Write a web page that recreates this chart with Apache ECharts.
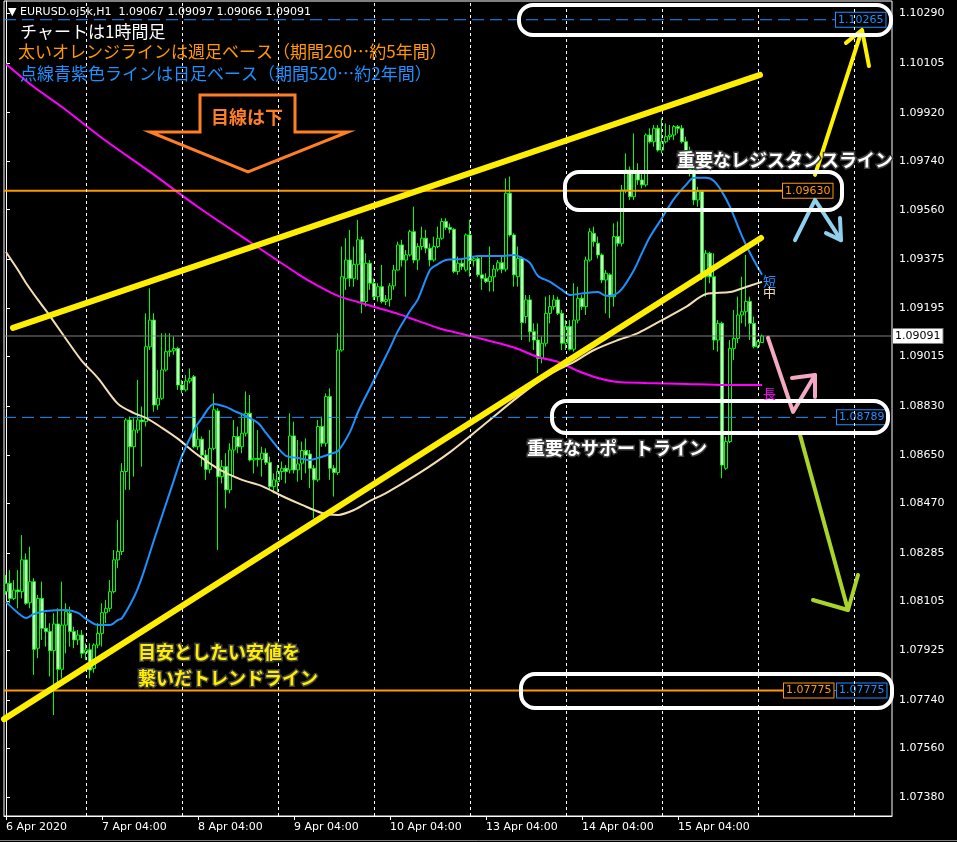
<!DOCTYPE html>
<html><head><meta charset="utf-8">
<script src="https://cdn.jsdelivr.net/npm/echarts@6/dist/echarts.min.js"></script>
<style>html,body{margin:0;padding:0;background:#000;}#c{width:957px;height:842px;}</style>
</head><body><div id="c"></div>
<script>
// ---------- DATA ----------
const openP = [1.08142,1.08173,1.08117,1.08148,1.08142,1.08260,1.08101,1.08179,1.07932,1.08117,
1.08006,1.07994,1.07923,1.08022,1.07854,1.08018,1.08062,1.07994,1.07963,1.07981,
1.07916,1.07926,1.07857,1.07944,1.07987,1.08064,1.08080,1.08142,1.08260,1.08291,
1.08588,1.08779,1.08680,1.08742,1.08779,1.08773,1.09051,1.09150,1.08835,1.08860,
1.08965,1.09033,1.09036,1.09045,1.08909,1.08891,1.08924,1.08940,1.08680,1.08708,
1.08649,1.08596,1.08674,1.08813,1.08569,1.08606,1.08520,1.08668,1.08718,1.08680,
1.08730,1.08804,1.08631,1.08637,1.08633,1.08656,1.08621,1.08532,1.08550,1.08588,
1.08600,1.08594,1.08720,1.08594,1.08619,1.08666,1.08653,1.08600,1.08557,1.08755,
1.08693,1.08866,1.08600,1.08584,1.09039,1.09305,1.09373,1.09305,1.09357,1.09448,
1.09219,1.09361,1.09287,1.09237,1.09274,1.09219,1.09227,1.09277,1.09336,1.09429,
1.09373,1.09392,1.09478,1.09373,1.09423,1.09454,1.09417,1.09373,1.09423,1.09454,
1.09516,1.09494,1.09487,1.09330,1.09361,1.09336,1.09466,1.09371,1.09378,1.09318,
1.09305,1.09293,1.09311,1.09339,1.09363,1.09339,1.09621,1.09466,1.09311,1.09379,
1.09163,1.09225,1.09107,1.09076,1.09008,1.09064,1.09175,1.09200,1.09225,1.09175,
1.09064,1.09126,1.09042,1.09150,1.09231,1.09200,1.09373,1.09472,1.09435,1.09392,
1.09299,1.09318,1.09237,1.09460,1.09435,1.09633,1.09707,1.09608,1.09701,1.09670,
1.09652,1.09837,1.09812,1.09862,1.09781,1.09812,1.09831,1.09837,1.09868,1.09862,
1.09812,1.09775,1.09707,1.09596,1.09627,1.09311,1.09398,1.09311,1.09076,1.09138,
1.08600,1.08699,1.09045,1.09082,1.09169,1.09181,1.09219,1.09138,1.09052,1.09067];
const closeP = [1.08173,1.08117,1.08148,1.08142,1.08260,1.08099,1.08179,1.07928,1.08117,1.08006,
1.07994,1.07923,1.08022,1.07854,1.08018,1.08068,1.07994,1.07963,1.07981,1.07913,
1.07926,1.07851,1.07944,1.07987,1.08064,1.08080,1.08142,1.08260,1.08291,1.08588,
1.08779,1.08680,1.08742,1.08779,1.08773,1.09051,1.09150,1.08835,1.08860,1.08965,
1.09033,1.09036,1.09045,1.08909,1.08891,1.08924,1.08934,1.08680,1.08708,1.08649,
1.08596,1.08674,1.08817,1.08569,1.08606,1.08520,1.08668,1.08718,1.08680,1.08730,
1.08804,1.08631,1.08637,1.08633,1.08656,1.08621,1.08532,1.08557,1.08588,1.08600,
1.08588,1.08720,1.08594,1.08616,1.08666,1.08649,1.08600,1.08557,1.08755,1.08693,
1.08866,1.08600,1.08584,1.09039,1.09311,1.09373,1.09305,1.09357,1.09448,1.09219,
1.09361,1.09287,1.09237,1.09274,1.09219,1.09227,1.09277,1.09336,1.09429,1.09373,
1.09392,1.09478,1.09373,1.09423,1.09454,1.09417,1.09373,1.09423,1.09454,1.09516,
1.09494,1.09487,1.09330,1.09361,1.09349,1.09466,1.09371,1.09378,1.09318,1.09305,
1.09293,1.09311,1.09339,1.09363,1.09339,1.09621,1.09466,1.09318,1.09379,1.09141,
1.09225,1.09107,1.09076,1.09008,1.09064,1.09175,1.09200,1.09225,1.09175,1.09064,
1.09126,1.09042,1.09150,1.09231,1.09200,1.09373,1.09478,1.09441,1.09392,1.09299,
1.09324,1.09237,1.09460,1.09435,1.09633,1.09707,1.09608,1.09701,1.09670,1.09652,
1.09837,1.09812,1.09862,1.09781,1.09812,1.09831,1.09837,1.09868,1.09862,1.09812,
1.09775,1.09707,1.09596,1.09627,1.09311,1.09398,1.09311,1.09076,1.09138,1.08612,
1.08699,1.09045,1.09082,1.09169,1.09181,1.09219,1.09138,1.09052,1.09070,1.09091];
const lowP = [1.08130,1.08099,1.08111,1.08080,1.08117,1.08093,1.08080,1.07833,1.07895,1.07963,
1.07938,1.07827,1.07684,1.07790,1.07820,1.07913,1.07938,1.07932,1.07944,1.07895,
1.07888,1.07820,1.07841,1.07932,1.07938,1.08025,1.08068,1.08136,1.08229,1.08278,
1.08520,1.08520,1.08569,1.08730,1.08606,1.08755,1.09039,1.08810,1.08817,1.08854,
1.08959,1.09014,1.09021,1.08891,1.08878,1.08885,1.08915,1.08674,1.08668,1.08606,
1.08557,1.08581,1.08668,1.08297,1.08544,1.08451,1.08507,1.08569,1.08656,1.08656,
1.08718,1.08625,1.08581,1.08606,1.08569,1.08612,1.08520,1.08507,1.08513,1.08557,
1.08544,1.08581,1.08581,1.08550,1.08557,1.08581,1.08526,1.08414,1.08550,1.08680,
1.08680,1.08557,1.08495,1.08575,1.09033,1.09262,1.09274,1.09274,1.09299,1.09175,
1.09200,1.09262,1.09225,1.09219,1.09212,1.09206,1.09200,1.09262,1.09334,1.09349,
1.09237,1.09386,1.09361,1.09336,1.09410,1.09398,1.09349,1.09367,1.09417,1.09448,
1.09485,1.09472,1.09324,1.09318,1.09336,1.09330,1.09311,1.09349,1.09311,1.09262,
1.09287,1.09256,1.09256,1.09330,1.09324,1.09330,1.09460,1.09274,1.09274,1.09076,
1.09138,1.09070,1.09039,1.08953,1.08990,1.09052,1.09138,1.09188,1.09169,1.09039,
1.09039,1.09037,1.09033,1.09138,1.09188,1.09169,1.09367,1.09423,1.09379,1.09287,
1.09175,1.09157,1.09200,1.09423,1.09423,1.09621,1.09596,1.09596,1.09652,1.09639,
1.09645,1.09806,1.09794,1.09775,1.09769,1.09806,1.09819,1.09819,1.09843,1.09806,
1.09763,1.09683,1.09577,1.09571,1.09299,1.09237,1.09287,1.09039,1.09033,1.08563,
1.08594,1.08693,1.09002,1.09064,1.09138,1.09126,1.09076,1.09045,1.09045,1.09066];
const highP = [1.08204,1.08222,1.08185,1.08222,1.08352,1.08284,1.08309,1.08192,1.08130,1.08179,
1.08062,1.08025,1.08062,1.08080,1.08179,1.08099,1.08086,1.08012,1.08000,1.08000,
1.07950,1.07950,1.07950,1.08025,1.08099,1.08111,1.08185,1.08297,1.08408,1.08619,
1.08786,1.08792,1.08786,1.08928,1.08829,1.09175,1.09268,1.09175,1.08965,1.09101,
1.09101,1.09101,1.09089,1.09051,1.08928,1.08946,1.08971,1.08946,1.08755,1.08718,
1.08668,1.08742,1.08878,1.08823,1.08631,1.08656,1.08693,1.08779,1.08755,1.08804,
1.08885,1.08872,1.08779,1.08742,1.08680,1.08674,1.08643,1.08581,1.08612,1.08625,
1.08612,1.08804,1.08773,1.08705,1.08699,1.08711,1.08668,1.08612,1.08779,1.08792,
1.08878,1.08897,1.08612,1.09101,1.09423,1.09454,1.09485,1.09423,1.09522,1.09460,
1.09398,1.09373,1.09305,1.09287,1.09355,1.09243,1.09287,1.09355,1.09441,1.09448,
1.09410,1.09485,1.09571,1.09435,1.09497,1.09485,1.09435,1.09460,1.09497,1.09528,
1.09528,1.09509,1.09491,1.09386,1.09373,1.09472,1.09522,1.09386,1.09386,1.09386,
1.09324,1.09423,1.09355,1.09373,1.09386,1.09676,1.09683,1.09472,1.09423,1.09386,
1.09243,1.09243,1.09138,1.09138,1.09089,1.09237,1.09243,1.09243,1.09237,1.09188,
1.09150,1.09150,1.09287,1.09274,1.09243,1.09386,1.09491,1.09497,1.09460,1.09398,
1.09336,1.09324,1.09509,1.09516,1.09652,1.09769,1.09720,1.09843,1.09732,1.09707,
1.09843,1.09862,1.09874,1.09874,1.09899,1.09880,1.09874,1.09874,1.09874,1.09874,
1.09831,1.09794,1.09720,1.09645,1.09633,1.09410,1.09404,1.09398,1.09150,1.09144,
1.08717,1.09076,1.09188,1.09237,1.09311,1.09392,1.09237,1.09163,1.09076,1.09097];

const xTickLabels = ["6 Apr 2020","7 Apr 04:00","8 Apr 04:00","9 Apr 04:00","10 Apr 04:00","13 Apr 04:00","14 Apr 04:00","15 Apr 04:00"];
const xTickBars = [0,24,48,72,96,120,144,168];
const yTickLabels = ["1.10290","1.10105","1.09920","1.09740","1.09560","1.09375","1.09195","1.09015","1.08830","1.08650","1.08470","1.08285","1.08105","1.07925","1.07740","1.07560","1.07380"];
const gridBars = [20,44,68,92,116,140,164,188,212];

// moving averages, read at sample bars: [bar, price]
const maShort = [[0,1.08104],[3,1.08063],[5,1.08044],[7,1.08059],[10,1.08070],[15,1.08074],[18,1.08063],[20,1.08041],[23,1.08018],[26,1.08018],[28,1.08037],[29,1.08044],[32,1.08122],[34,1.08196],[37,1.08334],[39,1.08423],[42,1.08557],[44,1.08646],[47,1.08742],[49,1.08787],[52,1.08839],[55,1.08828],[57,1.08813],[60,1.08794],[63,1.08768],[65,1.08731],[68,1.08675],[70,1.08646],[73,1.08638],[76,1.08631],[78,1.08638],[81,1.08653],[83,1.08664],[86,1.08735],[88,1.08809],[91,1.08898],[93,1.08957],[95,1.09017],[96,1.09047],[98,1.09110],[101,1.09184],[103,1.09228],[106,1.09336],[108,1.09358],[110,1.09373],[114,1.09377],[118,1.09388],[121,1.09388],[124,1.09388],[127,1.09392],[129,1.09381],[131,1.09362],[133,1.09314],[136,1.09292],[139,1.09262],[141,1.09243],[143,1.09247],[145,1.09251],[148,1.09254],[150,1.09240],[152,1.09243],[154,1.09266],[157,1.09336],[159,1.09399],[161,1.09459],[164,1.09529],[167,1.09600],[170,1.09652],[172,1.09678],[175,1.09678],[177,1.09666],[179,1.09626],[181,1.09570],[184,1.09462],[186,1.09399],[189,1.09318]];
const maMid = [[0,1.09403],[3,1.09336],[5,1.09288],[8,1.09225],[11,1.09165],[15,1.09080],[19,1.08998],[23,1.08935],[28,1.08839],[32,1.08805],[35,1.08787],[39,1.08750],[43,1.08709],[48,1.08649],[54,1.08590],[59,1.08557],[64,1.08534],[69,1.08497],[74,1.08464],[79,1.08434],[83,1.08427],[87,1.08445],[91,1.08479],[95,1.08508],[103,1.08579],[111,1.08660],[120,1.08768],[128,1.08865],[136,1.08950],[142,1.08995],[147,1.09039],[153,1.09076],[158,1.09102],[164,1.09150],[170,1.09199],[175,1.09247],[181,1.09254],[185,1.09273],[189,1.09292]];
const maLong = [[0,1.10101],[7,1.10015],[14,1.09941],[24,1.09826],[36,1.09700],[48,1.09570],[61,1.09440],[73,1.09321],[78,1.09277],[83,1.09240],[88,1.09217],[93,1.09195],[98,1.09173],[103,1.09147],[108,1.09121],[113,1.09102],[118,1.09084],[123,1.09065],[128,1.09043],[133,1.09013],[138,1.08995],[143,1.08961],[148,1.08935],[153,1.08920],[160,1.08917],[170,1.08913],[180,1.08909],[189,1.08909]];

// price levels
const weeklyLevels = [1.09630, 1.07775];
const dailyLevels = [1.10265, 1.08789, 1.07775];
const lastPrice = 1.09091;

// hand-drawn trend lines and arrows: [bar, price]
const upperTrend = [[1.75,1.09121],[188.5,1.10060]];
const lowerTrend = [[-0.5,1.07669],[188.75,1.09455]];
const yellowArrow = [[202.25,1.09689],[213.75,1.10216]];
const yellowHead = [[210,1.10179],[214,1.10227],[215.75,1.10093]];
const blueArrow = [[197.25,1.09447],[202.25,1.09596],[208.75,1.09447]];
const blueHead = [[205,1.09473],[208.75,1.09447],[208.5,1.09529]];
const pinkArrow = [[190.5,1.09084],[196.75,1.08809],[202.25,1.08946]];
const pinkHead = [[196.5,1.08935],[202.25,1.08946],[202.25,1.08865]];
const greenArrow = [[198.5,1.08724],[210.5,1.08074]];
const greenHead = [[201.75,1.08111],[210.5,1.08074],[213,1.08204]];

// ---------- CHART ----------
const NSLOTS = 222;
const cats = [];
for (let i = 0; i < NSLOTS; i++) cats.push(String(i));
xTickBars.forEach((b, k) => { cats[b] = xTickLabels[k]; });
const isTick = (idx) => xTickBars.indexOf(idx) >= 0;
const yTickVals = yTickLabels.map(Number);
const candles = openP.map((o, i) => [o, closeP[i], lowP[i], highP[i]]);
const fmt = (v) => v.toFixed(5);

function lvl(price, xEnd, color, dashed, labelBg, labelColor, z) {
  return {
    type: 'line', xAxisIndex: 1, yAxisIndex: 0, z: z || 3, silent: true,
    data: [[-0.5, price], [xEnd, price]], showSymbol: false, symbol: 'none',
    lineStyle: { color: color, width: dashed ? 1 : 2, type: dashed ? [12, 6] : 'solid' },
    endLabel: { show: true, formatter: () => fmt(price), color: labelColor || color,
      fontFamily: 'DejaVu Sans', fontSize: 11, backgroundColor: labelBg || '#000',
      borderColor: color, borderWidth: 1, padding: [2, 2, 1, 2], distance: 1 }
  };
}
function seg(data, color, width, z) {
  return { type: 'line', xAxisIndex: 1, yAxisIndex: 0, z: z || 5, silent: true, data: data,
    showSymbol: false, symbol: 'none', lineStyle: { color: color, width: width, cap: 'round', join: 'round' } };
}
function ma(data, color) {
  return { type: 'line', xAxisIndex: 1, yAxisIndex: 0, z: 3, silent: true, data: data, smooth: 0.3,
    showSymbol: false, symbol: 'none', lineStyle: { color: color, width: 2 } };
}

const JP = '"Noto Sans CJK JP"';
const series = [
  { type: 'candlestick', xAxisIndex: 0, yAxisIndex: 0, z: 2, data: candles, barWidth: 3,
    itemStyle: { color: '#000', color0: '#fff', borderColor: '#00ff00', borderColor0: '#00ff00', borderWidth: 1 },
    markLine: { silent: true, symbol: 'none', animation: false, label: { show: false },
      lineStyle: { color: '#fff', type: [3, 3], width: 1 },
      data: gridBars.map(b => ({ xAxis: b })) } },
  ma(maLong, '#ff00ff'),
  ma(maMid, '#f5deb3'),
  ma(maShort, '#1e90ff'),
  lvl(dailyLevels[0], 207.25, '#1e90ff', true, '#000'),
  lvl(dailyLevels[1], 207.5, '#1e90ff', true, '#000'),
  lvl(dailyLevels[2], 207.5, '#1e90ff', true, '#000'),
  lvl(weeklyLevels[0], 194.0, '#ff9900', false, '#000', null, 4),
  lvl(weeklyLevels[1], 194.25, '#ff9900', false, '#000', null, 4),
  lvl(lastPrice, 221.5, '#808080', false, '#ffffff', '#000000'),
  seg(upperTrend, '#ffee00', 6, 6),
  seg(lowerTrend, '#ffee00', 6, 6),
  seg(yellowArrow, '#fff200', 4), seg(yellowHead, '#fff200', 4),
  seg(blueArrow, '#8fd0ef', 4), seg(blueHead, '#8fd0ef', 4),
  seg(pinkArrow, '#f5a8c3', 4), seg(pinkHead, '#f5a8c3', 4),
  seg(greenArrow, '#a9d42a', 4), seg(greenHead, '#a9d42a', 4)
];
// current price line thin
series[9].lineStyle.width = 1;

function txt(x, y, text, fill, font, extra) {
  return Object.assign({ type: 'text', x: x, y: y, z: 100, silent: true,
    style: Object.assign({ text: text, fill: fill, font: font, verticalAlign: 'middle' }, extra || {}) });
}
function rrect(x, y, w, h) {
  return { type: 'rect', z: 90, silent: true, shape: { x: x, y: y, width: w, height: h, r: 14 },
    style: { fill: 'none', stroke: '#fff', lineWidth: 4 } };
}

const graphic = [
  rrect(519, 5, 372, 30),
  rrect(565, 172, 277, 38),
  rrect(552, 401, 336, 32),
  rrect(521, 674, 371, 34),
  { type: 'polygon', z: 95, silent: true,
    shape: { points: [[200,95],[295,95],[295,132],[348,132],[248,172],[150,132],[200,132]] },
    style: { fill: 'rgba(0,0,0,0)', stroke: '#ff7f27', lineWidth: 3 } },
  txt(247, 117, '目線は下', '#ff7f27', 'bold 18px ' + JP, { align: 'center' }),
  txt(8, 12, '▼ EURUSD.oj5k,H1  1.09067 1.09097 1.09066 1.09091', '#fff', '11px "DejaVu Sans"'),
  txt(20, 32, 'チャートは1時間足', '#fff', '17px ' + JP),
  txt(18, 52, '太いオレンジラインは週足ベース（期間260…約5年間）', '#ff9900', '17px ' + JP),
  txt(20, 74, '点線青紫色ラインは日足ベース（期間520…約2年間）', '#1e90ff', '17px ' + JP),
  txt(677, 160, '重要なレジスタンスライン', '#fff', 'bold 18px ' + JP, { stroke: '#404040', lineWidth: 3 }),
  txt(527, 448, '重要なサポートライン', '#fff', 'bold 18px ' + JP, { stroke: '#404040', lineWidth: 3 }),
  txt(138, 652, '目安としたい安値を', '#ffee00', 'bold 18px ' + JP, { stroke: '#404040', lineWidth: 3 }),
  txt(138, 678, '繋いだトレンドライン', '#ffee00', 'bold 18px ' + JP, { stroke: '#404040', lineWidth: 3 }),
  txt(763, 281, '短', '#1e90ff', '13px ' + JP),
  txt(763, 292, '中', '#f5deb3', '13px ' + JP),
  txt(763, 393, '長', '#ff00ff', '13px ' + JP),
  { type: 'line', z: 100, silent: true, shape: { x1: 0, y1: 840.5, x2: 957, y2: 840.5 }, style: { stroke: '#808080', lineWidth: 1 } }
];

const option = {
  backgroundColor: '#000',
  animation: false,
  grid: { left: 4, right: 65, top: 1, bottom: 26, show: true, borderColor: '#fff', borderWidth: 1, backgroundColor: '#000' },
  xAxis: [
    { type: 'category', data: cats, boundaryGap: true,
      axisLine: { show: true, lineStyle: { color: '#fff' } },
      axisTick: { show: true, alignWithLabel: true, interval: (i) => isTick(i), length: 4, lineStyle: { color: '#fff' } },
      axisLabel: { interval: (i) => isTick(i), color: '#fff', fontFamily: 'DejaVu Sans', fontSize: 11, align: 'left', margin: 6 },
      splitLine: { show: false } },
    { type: 'value', min: -0.5, max: 221.5, show: false, splitLine: { show: false } }
  ],
  yAxis: [
    { type: 'value', position: 'right', min: 1.073093, max: 1.103345, scale: true,
      axisLine: { show: true, lineStyle: { color: '#fff' } },
      axisTick: { show: true, length: 4, customValues: yTickVals, lineStyle: { color: '#fff' } },
      axisLabel: { customValues: yTickVals, formatter: (v) => fmt(v), color: '#fff', fontFamily: 'DejaVu Sans', fontSize: 11, margin: 7 },
      splitLine: { show: false } }
  ],
  series: series,
  graphic: graphic
};

const chart = echarts.init(document.getElementById('c'), null, { renderer: 'canvas' });
chart.setOption(option);
</script>
</body></html>
